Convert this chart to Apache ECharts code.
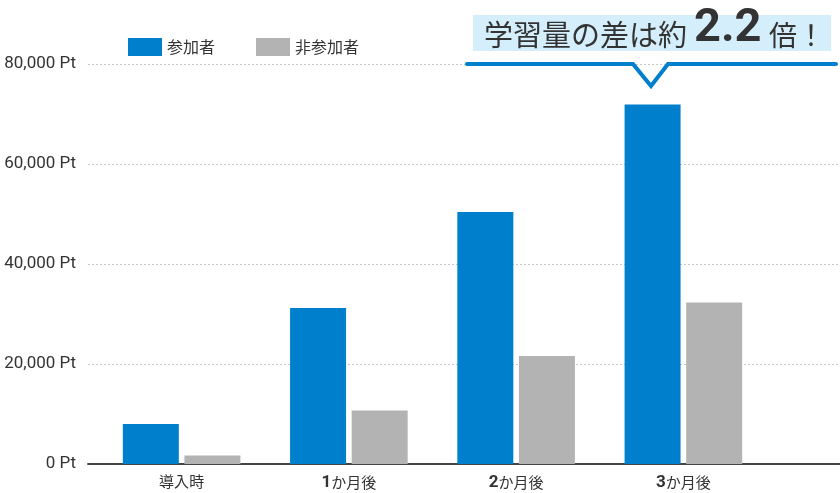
<!DOCTYPE html>
<html>
<head>
<meta charset="utf-8">
<script src="https://cdn.jsdelivr.net/npm/echarts@6/dist/echarts.min.js"></script>
<style>
  html, body { margin: 0; padding: 0; background: #fff; }
  #chart { width: 840px; height: 493px; }
</style>
</head>
<body>
<div id="chart"></div>
<script>
// data
var categories = ['導入時', '1か月後', '2か月後', '3か月後'];
var seriesNames = ['参加者', '非参加者'];
var participants = [8000, 31200, 50400, 71900];
var nonParticipants = [1700, 10700, 21600, 32300];
var calloutText = ['学習量の差は約', '2.2', '倍！'];

var font = 'Roboto, "Noto Sans CJK JP", sans-serif';
var jpFont = '"Noto Sans CJK JP", sans-serif';

function fmt(v) {
  return String(v).replace(/\B(?=(\d{3})+(?!\d))/g, ',') + ' Pt';
}

var chart = echarts.init(document.getElementById('chart'));

chart.setOption({
  animation: false,
  textStyle: { fontFamily: font },
  color: ['#0080cc', '#b3b3b3'],
  legend: {
    data: seriesNames,
    left: 123,
    top: 33,
    icon: 'rect',
    itemWidth: 34,
    itemHeight: 18,
    itemGap: 41,
    textStyle: { fontSize: 16, color: '#333', fontFamily: jpFont }
  },
  grid: [
    { left: 88, right: 0, top: 64, bottom: 29 },
    { left: 98, right: 73, top: 64, bottom: 29 }
  ],
  xAxis: [
    {
      type: 'category', gridIndex: 0, data: categories, offset: 1.5,
      axisLine: { lineStyle: { color: '#444', width: 2 } },
      axisTick: { show: false },
      axisLabel: { show: false }
    },
    {
      type: 'category', gridIndex: 1, data: categories,
      axisLine: { show: false },
      axisTick: { show: false },
      axisLabel: {
        margin: 10,
        color: '#333',
        formatter: function (v) {
          var m = v.match(/^(\d)(.*)$/);
          if (m) return '{n|' + m[1] + '}{t|' + m[2] + '}';
          return '{t|' + v + '}';
        },
        rich: {
          n: { fontSize: 17, fontWeight: 'bold', color: '#333', fontFamily: font },
          t: { fontSize: 15, color: '#333', fontFamily: jpFont }
        }
      }
    }
  ],
  yAxis: [
    {
      type: 'value', gridIndex: 0, min: 0, max: 80000, interval: 20000,
      axisLine: { show: false },
      axisTick: { show: false },
      axisLabel: { fontSize: 17, color: '#333', margin: 12, formatter: fmt },
      splitLine: { lineStyle: { color: '#c8c8c8', type: [2, 2], width: 1 } }
    },
    {
      type: 'value', gridIndex: 1, min: 0, max: 80000, interval: 20000,
      show: false, splitLine: { show: false }
    }
  ],
  series: [
    {
      name: seriesNames[0], type: 'bar', xAxisIndex: 1, yAxisIndex: 1,
      data: participants, barWidth: 56, barGap: '10%'
    },
    {
      name: seriesNames[1], type: 'bar', xAxisIndex: 1, yAxisIndex: 1,
      data: nonParticipants, barWidth: 56, barGap: '10%'
    }
  ],
  graphic: [
    {
      type: 'rect', z: 10,
      shape: { x: 473, y: 15, width: 358, height: 36 },
      style: { fill: '#d4eefc' }
    },
    {
      type: 'text', z: 11, x: 484, y: 35,
      style: { text: calloutText[0], fontSize: 29, fill: '#333', fontFamily: jpFont, verticalAlign: 'middle' }
    },
    {
      type: 'text', z: 11, x: 694, y: 29,
      style: { text: calloutText[1], fontSize: 47, fontWeight: 'bold', fill: '#333', fontFamily: font, verticalAlign: 'middle' }
    },
    {
      type: 'text', z: 11, x: 769, y: 35,
      style: { text: calloutText[2], fontSize: 28, fill: '#333', fontFamily: jpFont, verticalAlign: 'middle' }
    },
    {
      type: 'polyline', z: 11,
      shape: { points: [[467, 64], [633, 64], [651, 86], [668, 64], [836, 64]] },
      style: { stroke: '#0080cc', lineWidth: 4, fill: null, lineCap: 'round', lineJoin: 'miter' }
    }
  ]
});
</script>
</body>
</html>
